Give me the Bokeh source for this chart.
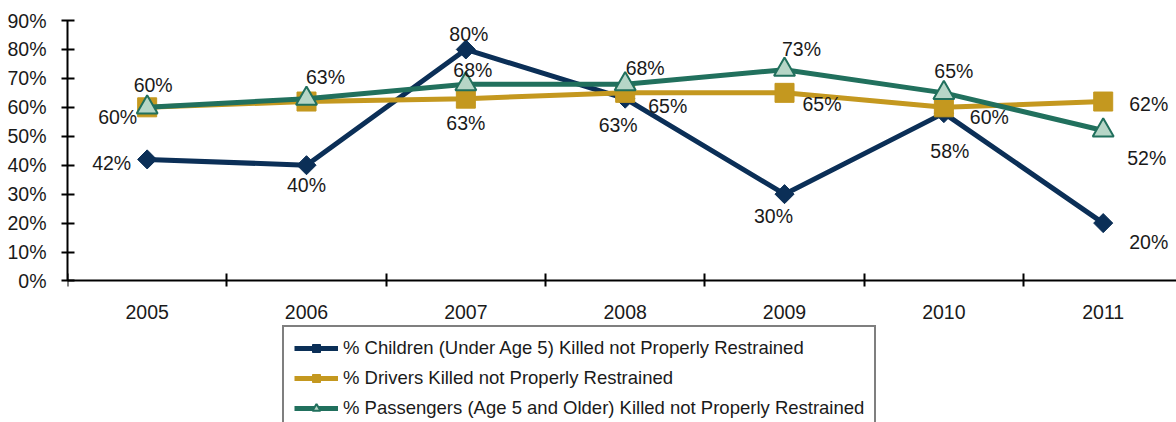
from bokeh.plotting import figure
from bokeh.models import ColumnDataSource, FixedTicker, Legend, LegendItem, Range1d
from bokeh.core.properties import value
from bokeh.embed import file_html
from bokeh.resources import INLINE

# ---- data ----
years = ["2005", "2006", "2007", "2008", "2009", "2010", "2011"]
children = [42, 40, 80, 63, 30, 58, 20]
drivers = [60, 62, 63, 65, 65, 60, 62]
passengers = [60, 63, 68, 68, 73, 65, 52]
y_ticks = [0, 10, 20, 30, 40, 50, 60, 70, 80, 90]
names = [
    "% Children (Under Age 5) Killed not Properly Restrained",
    "% Drivers Killed not Properly Restrained",
    "% Passengers (Age 5 and Older) Killed not Properly Restrained",
]
# which data labels are shown
show_drivers = [True, False, True, True, True, True, True]

# ---- label placement (style) ----
lab_children = dict(dx=[-16, 0, 3, -7, -11, 6, 26], dy=[4, 20, -15, 26, 22, 38, 19],
                    align=["right", "center", "center", "center", "center", "center", "left"])
lab_drivers = dict(dx=[-10, 0, 0, 23, 18, 26, 26], dy=[10, 0, 24, 13, 11, 10, 2],
                   align=["right", "center", "center", "left", "left", "left", "left"])
lab_pass = dict(dx=[6, 19, 7, 20, 17, 10, 24], dy=[-22, -22, -14, -16, -21, -22, 28],
                align=["center", "center", "center", "center", "center", "center", "left"])

FONT = "Liberation Sans"
NAVY = "#0B2F57"
GOLD = "#C4981F"
GREEN = "#21705D"
LIGHT = "#B6D6C7"
TXT = "#1a1a1a"

xs = list(range(len(years)))

p = figure(width=1176, height=422, x_range=Range1d(-0.5, 6.46), y_range=Range1d(-48.9, 90),
           output_backend="svg", toolbar_location=None,
           min_border_left=67, min_border_right=0, min_border_top=20, min_border_bottom=0)
p.outline_line_color = None
p.xgrid.visible = False
p.ygrid.visible = False
p.background_fill_color = "white"
p.border_fill_color = "white"

# axes
p.yaxis.ticker = FixedTicker(ticks=y_ticks, minor_ticks=[])
p.yaxis.bounds = (0, 90)
p.yaxis.major_label_overrides = {t: f"{t}%" for t in y_ticks}
p.yaxis.major_tick_in = 7
p.yaxis.major_tick_out = 6
p.yaxis.major_label_standoff = 15
p.xaxis.fixed_location = 0
p.xaxis.ticker = FixedTicker(ticks=xs, minor_ticks=[i - 0.5 for i in range(len(years) + 1)])
p.xaxis.major_label_overrides = {i: y for i, y in enumerate(years)}
p.xaxis.major_tick_in = 0
p.xaxis.major_tick_out = 0
p.xaxis.minor_tick_in = 7
p.xaxis.minor_tick_out = 6
p.xaxis.major_label_standoff = 18
for ax in (p.xaxis, p.yaxis):
    ax.axis_line_color = "black"
    ax.axis_line_width = 2
    ax.major_tick_line_color = "black"
    ax.major_tick_line_width = 2
    ax.minor_tick_line_width = 2
    ax.major_label_text_font = FONT
    ax.major_label_text_font_size = "19.5px"
    ax.major_label_text_color = TXT
p.xaxis.minor_tick_line_color = "black"
p.yaxis.minor_tick_line_color = None

# series
l1 = p.line(xs, children, line_color=NAVY, line_width=5)
m1 = p.scatter(xs, children, marker="square", angle=0.7854, size=13.5,
               fill_color=NAVY, line_color=NAVY, line_width=1)
l2 = p.line(xs, drivers, line_color=GOLD, line_width=5)
m2 = p.scatter(xs, drivers, marker="square", size=19, fill_color=GOLD, line_color=GOLD)
l3 = p.line(xs, passengers, line_color=GREEN, line_width=5)
m3 = p.scatter(xs, passengers, marker="triangle", size=21, fill_color=LIGHT,
               line_color=GREEN, line_width=2)

def add_labels(vals, place, show=None):
    labels = [f"{v}%" if (show is None or show[i]) else "" for i, v in enumerate(vals)]
    src = ColumnDataSource(dict(x=xs, y=vals, t=labels, dx=place["dx"], dy=place["dy"],
                                a=place["align"]))
    p.text(x="x", y="y", text="t", x_offset="dx", y_offset="dy", text_align="a",
           text_baseline="middle", text_font=value(FONT), text_font_size="19.5px",
           text_color=TXT, source=src)

add_labels(children, lab_children)
add_labels(drivers, lab_drivers, show_drivers)
add_labels(passengers, lab_pass)

legend = Legend(items=[LegendItem(label=names[0], renderers=[l1, m1]),
                       LegendItem(label=names[1], renderers=[l2, m2]),
                       LegendItem(label=names[2], renderers=[l3, m3])],
                location=(215, -9), orientation="vertical",
                label_text_font=FONT, label_text_font_size="18.5px", label_text_color=TXT,
                glyph_width=44, glyph_height=20, label_height=20, spacing=8,
                padding=10, margin=0, label_standoff=5,
                border_line_color="black", border_line_width=2,
                background_fill_color="white", background_fill_alpha=1)
p.add_layout(legend, "center")

open("out.html", "w").write(file_html(p, INLINE))
